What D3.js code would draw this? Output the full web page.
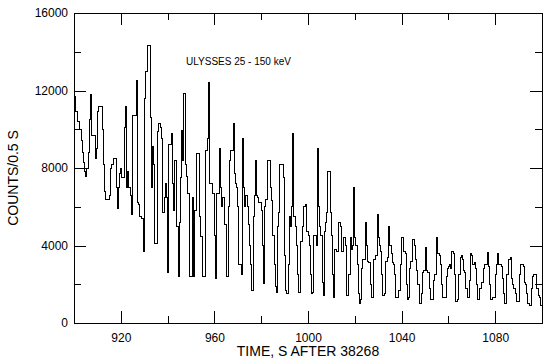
<!DOCTYPE html>
<html>
<head>
<meta charset="utf-8">
<script src="https://cdn.jsdelivr.net/npm/d3@7"></script>
<style>
  body { margin: 0; background: #fff; }
  svg text { font-family: "Liberation Sans", Arial, Helvetica, sans-serif; fill: #000; }
</style>
</head>
<body>
<svg id="chart" width="557" height="363"></svg>
<script>
// Ulysses 25-150 keV count rate, 0.5 s bins starting at t = 900 s
const binStart = 900;
const binWidth = 0.5;
const counts = [
  11700, 10900, 10900, 10400, 10400, 10000, 9400, 8800, 8300, 7800, 7550, 8000, 8800, 10500, 11800, 9700, 9700, 9700, 8500, 9000,
  10900, 11200, 11200, 11200, 10000, 8200, 6800, 6400, 6400, 6400, 6600, 8000, 8200, 8200, 8500, 8500, 7000, 5900, 7000, 7700,
  8000, 7500, 7500, 10100, 11200, 7000, 7800, 7000, 6600, 5600, 10700, 10700, 10700, 12500, 6200, 6100, 5500, 5500, 5400, 3700,
  11600, 13000, 13000, 14300, 14300, 10600, 7000, 9100, 8200, 4100, 4100, 9900, 10300, 10300, 10100, 9500, 5700, 6500, 7200, 6500,
  2600, 9200, 9200, 9800, 7200, 5800, 8400, 8400, 5000, 2400, 5200, 7500, 9960, 8400, 11850, 8200, 7550, 6700, 6700, 2400,
  2400, 6500, 2400, 5800, 5800, 8750, 8750, 5500, 4450, 4450, 2400, 2400, 8900, 8900, 9500, 12400, 7200, 7200, 6700, 6700,
  4500, 2300, 6700, 6700, 9000, 7000, 6000, 6500, 6500, 5100, 2400, 2400, 6000, 8400, 8900, 8900, 10300, 7700, 7200, 7000,
  6000, 3000, 3000, 2500, 9500, 7000, 6000, 6600, 6000, 5100, 4000, 3000, 1700, 5500, 6600, 8400, 6600, 6500, 6200, 6200,
  5800, 4000, 2050, 6000, 6350, 8400, 8400, 8400, 7000, 6300, 4500, 3000, 1900, 1600, 5000, 5700, 8200, 8200, 8200, 7500,
  3500, 1700, 1500, 3000, 5500, 5000, 6000, 9800, 5500, 5000, 4000, 2500, 1600, 1600, 4200, 5000, 6000, 6000, 6100, 4700,
  4500, 4000, 2500, 1500, 1600, 4500, 4500, 4000, 9000, 6000, 5000, 4500, 2100, 1400, 4700, 5200, 5700, 7800, 7800, 5700,
  4500, 2500, 1300, 3800, 3700, 3700, 5200, 5200, 5000, 3700, 4400, 4400, 4000, 1400, 1400, 2500, 4400, 3800, 4000, 7000,
  4400, 4000, 3000, 1500, 1000, 1200, 2800, 3300, 3300, 5200, 4000, 3200, 3100, 2000, 1300, 1300, 3300, 3300, 3500, 5600,
  4400, 4000, 3700, 2500, 1400, 1500, 3200, 3200, 3400, 5000, 4000, 3600, 3100, 3000, 2500, 1300, 1300, 1700, 1700, 3000,
  4400, 4400, 3700, 3600, 2000, 1200, 1300, 2800, 3200, 4300, 4300, 4000, 3300, 2700, 2000, 1000, 1000, 1500, 2600, 2700,
  3900, 2700, 2600, 2600, 1800, 1200, 1200, 2200, 2500, 2500, 4400, 3600, 3500, 3000, 2000, 1300, 1300, 1300, 2400, 2800,
  2900, 3000, 2800, 3700, 3600, 2500, 1100, 1100, 1200, 2500, 3400, 3500, 3300, 2700, 2600, 1800, 1300, 1300, 2200, 3600,
  3500, 3000, 3100, 2800, 2000, 1200, 1200, 1800, 2100, 2100, 2800, 3000, 3000, 3650, 2900, 2000, 1200, 1200, 1300, 1300,
  2500, 3000, 3600, 3000, 3000, 2900, 2300, 1500, 1000, 1000, 2500, 3300, 3300, 3400, 2300, 2000, 1800, 1500, 1100, 1100,
  1100, 2500, 3000, 3000, 2900, 2100, 2000, 1500, 1000, 900, 900, 1800, 2400, 2500, 2500, 1800, 1800, 1400, 1300, 900
];

const xMajorTicks = [920, 960, 1000, 1040, 1080];
const xMinorTicks = [940, 980, 1020, 1060];
const yMajorTicks = [0, 4000, 8000, 12000, 16000];
const yMinorTicks = [2000, 6000, 10000, 14000];

const title = "ULYSSES 25 - 150 keV";
const xTitle = "TIME, S AFTER 38268";
const yTitle = "COUNTS/0.5 S";

const margin = {top: 13, right: 15, bottom: 40, left: 74};
const width = 557, height = 363;

const svg = d3.select("#chart");

const x = d3.scaleLinear()
    .domain([900, 1100])
    .range([margin.left, width - margin.right]);

const y = d3.scaleLinear()
    .domain([0, 16000])
    .range([height - margin.bottom, margin.top]);

// step points: one per bin start, plus the closing edge
const points = counts.map((c, i) => [binStart + i * binWidth, c]);
points.push([binStart + counts.length * binWidth, counts[counts.length - 1]]);

const line = d3.line()
    .x(d => x(d[0]))
    .y(d => y(d[1]))
    .curve(d3.curveStepAfter);

svg.append("path")
    .datum(points)
    .attr("fill", "none")
    .attr("stroke", "#000")
    .attr("stroke-width", 1)
    .attr("shape-rendering", "crispEdges")
    .attr("d", line);

// frame
svg.append("rect")
    .attr("x", x(900))
    .attr("y", y(16000))
    .attr("width", x(1100) - x(900))
    .attr("height", y(0) - y(16000))
    .attr("fill", "none")
    .attr("stroke", "#000")
    .attr("stroke-width", 1)
    .attr("shape-rendering", "crispEdges");

function styleAxis(g) {
  g.select(".domain").remove();
  g.selectAll("line").attr("stroke", "#000").attr("shape-rendering", "crispEdges");
  g.selectAll("text").attr("font-size", 12).attr("fill", "#000");
}

const major = 12, minor = 7;
const bottomY = y(0), topY = y(16000), leftX = x(900), rightX = x(1100);

// bottom
svg.append("g").attr("transform", `translate(0,${bottomY})`)
    .call(d3.axisBottom(x).tickValues(xMajorTicks).tickSizeInner(-major).tickSizeOuter(0).tickPadding(10).tickFormat(d3.format("d")))
    .call(styleAxis);
svg.append("g").attr("transform", `translate(0,${bottomY})`)
    .call(d3.axisBottom(x).tickValues(xMinorTicks).tickSizeInner(-minor).tickSizeOuter(0).tickFormat(""))
    .call(styleAxis);
// top
svg.append("g").attr("transform", `translate(0,${topY})`)
    .call(d3.axisTop(x).tickValues(xMajorTicks).tickSizeInner(-major).tickSizeOuter(0).tickFormat(""))
    .call(styleAxis);
svg.append("g").attr("transform", `translate(0,${topY})`)
    .call(d3.axisTop(x).tickValues(xMinorTicks).tickSizeInner(-minor).tickSizeOuter(0).tickFormat(""))
    .call(styleAxis);
// left
svg.append("g").attr("transform", `translate(${leftX},0)`)
    .call(d3.axisLeft(y).tickValues(yMajorTicks).tickSizeInner(-major).tickSizeOuter(0).tickPadding(6).tickFormat(d3.format("d")))
    .call(styleAxis);
svg.append("g").attr("transform", `translate(${leftX},0)`)
    .call(d3.axisLeft(y).tickValues(yMinorTicks).tickSizeInner(-minor).tickSizeOuter(0).tickFormat(""))
    .call(styleAxis);
// right
svg.append("g").attr("transform", `translate(${rightX},0)`)
    .call(d3.axisRight(y).tickValues(yMajorTicks).tickSizeInner(-major).tickSizeOuter(0).tickFormat(""))
    .call(styleAxis);
svg.append("g").attr("transform", `translate(${rightX},0)`)
    .call(d3.axisRight(y).tickValues(yMinorTicks).tickSizeInner(-minor).tickSizeOuter(0).tickFormat(""))
    .call(styleAxis);

// labels
svg.append("text")
    .attr("x", 186).attr("y", 65)
    .attr("font-size", 10)
    .text(title);

svg.append("text")
    .attr("x", (leftX + rightX) / 2).attr("y", 356)
    .attr("text-anchor", "middle")
    .attr("font-size", 14)
    .text(xTitle);

svg.append("text")
    .attr("transform", `translate(18,${(topY + bottomY) / 2 + 10}) rotate(-90)`)
    .attr("text-anchor", "middle")
    .attr("font-size", 14)
    .text(yTitle);
</script>
</body>
</html>
